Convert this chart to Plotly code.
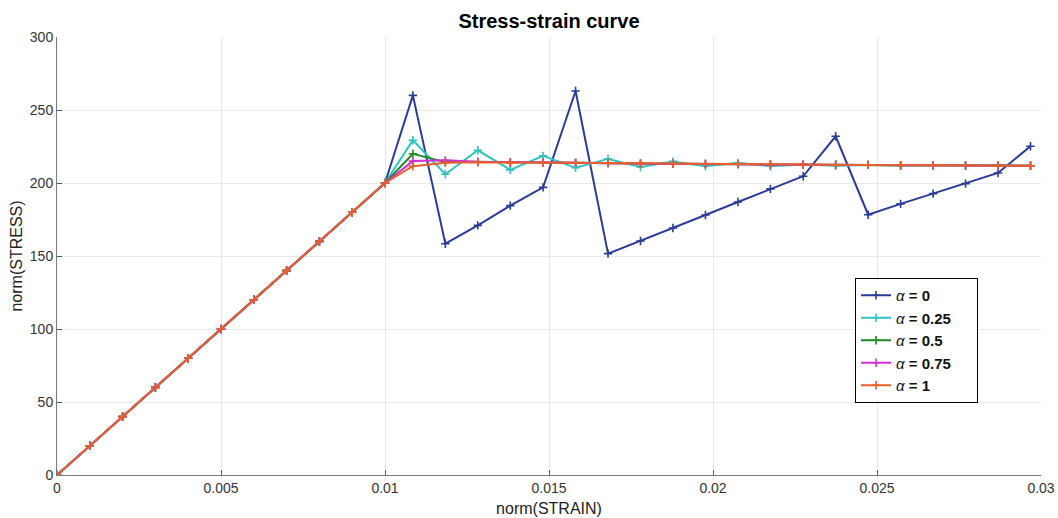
import plotly.graph_objects as go

strain_elastic = [0, 0.001, 0.002, 0.003, 0.004, 0.005, 0.006, 0.007, 0.008, 0.009, 0.01]
stress_elastic = [0, 20, 40, 60, 80, 100, 120, 140, 160, 180, 200]

strain_post = [0.01085, 0.01184, 0.01283, 0.01382, 0.01482, 0.01581, 0.0168, 0.01779,
               0.01878, 0.01977, 0.02076, 0.02175, 0.02275, 0.02374, 0.02473, 0.02572,
               0.02671, 0.0277, 0.02869, 0.02968]

stress_a0 = [260, 158.4, 171, 184.5, 197, 263, 151.6, 160.3, 169.2, 178.1, 187, 196,
             204.6, 232, 178.3, 185.7, 192.7, 199.6, 206.9, 225.2]
stress_a025 = [229.3, 206, 222.4, 209, 218.6, 210.4, 216.5, 211, 214.8, 211.5, 213.8, 211.5,
               212.6, 211.8, 212.4, 211.9, 212.2, 211.9, 212.1, 211.9]
stress_a05 = [220, 214.3, 214.5, 214.1, 213.9, 213.8, 213.6, 213.3, 213.2, 213, 212.9, 212.7,
              212.6, 212.5, 212.4, 212.2, 212.1, 212, 211.9, 211.8]
stress_a075 = [215, 215.5, 214.6, 214.2, 214, 213.8, 213.6, 213.3, 213.2, 213, 212.9, 212.7,
               212.6, 212.5, 212.4, 212.2, 212.1, 212, 211.9, 211.8]
stress_a1 = [211.5, 213.8, 214.2, 213.8, 213.8, 213.8, 213.6, 213.3, 213.2, 213, 212.9, 212.7,
             212.6, 212.5, 212.4, 212.2, 212.1, 212, 211.9, 211.8]

series_names = ["0", "0.25", "0.5", "0.75", "1"]
series_values = [stress_a0, stress_a025, stress_a05, stress_a075, stress_a1]
series_colors = ["#2b3b98", "#2fc4c2", "#1f8a22", "#d22fd4", "#e8602c"]

x_ticks = [0, 0.005, 0.01, 0.015, 0.02, 0.025, 0.03]
x_tick_labels = ["0", "0.005", "0.01", "0.015", "0.02", "0.025", "0.03"]
y_ticks = [0, 50, 100, 150, 200, 250, 300]

FONT = "Liberation Sans, Arial, sans-serif"
PAD = "\u00a0\u00a0\u00a0\u00a0\u00a0"

fig = go.Figure()
for name, vals, col in zip(series_names, series_values, series_colors):
    fig.add_trace(go.Scatter(
        x=strain_elastic + strain_post,
        y=stress_elastic + vals,
        mode="lines+markers",
        name="<i>α</i> <b>= " + name + "</b>" + PAD,
        line=dict(color=col, width=2),
        marker=dict(symbol="cross-thin", size=6, line=dict(color=col, width=1.6)),
    ))

axis_common = dict(
    showline=True, linecolor="#7a7a7a", linewidth=1,
    ticks="inside", ticklen=5, tickcolor="#555555", tickwidth=1,
    showgrid=True, gridcolor="#e8e8e8", gridwidth=1,
    zeroline=False, mirror=False, automargin=False,
    tickfont=dict(family=FONT, size=14, color="#333333"),
    title_font=dict(family=FONT, size=16, color="#222222"),
)

fig.update_layout(
    width=1058, height=518,
    margin=dict(l=57, r=17, t=37, b=43),
    paper_bgcolor="white", plot_bgcolor="white",
    title=dict(text="<b>Stress-strain curve</b>", x=0.5, xref="paper", xanchor="center",
               y=1 - 21 / 518, yref="container", yanchor="middle",
               font=dict(family=FONT, size=20, color="black")),
    xaxis=dict(range=[0, 0.03], tickvals=x_ticks, ticktext=x_tick_labels,
               title=dict(text="norm(STRAIN)", standoff=8), **axis_common),
    yaxis=dict(range=[0, 300], tickvals=y_ticks,
               title=dict(text="norm(STRESS)", standoff=3), **axis_common),
    legend=dict(x=(855 - 57) / 984, y=(475 - 278) / 438, xanchor="left", yanchor="top",
                bgcolor="white", bordercolor="black", borderwidth=1,
                font=dict(family=FONT, size=15, color="#111111"),
                itemwidth=30, tracegroupgap=0),
    showlegend=True,
)

fig.write_html("out.html")
